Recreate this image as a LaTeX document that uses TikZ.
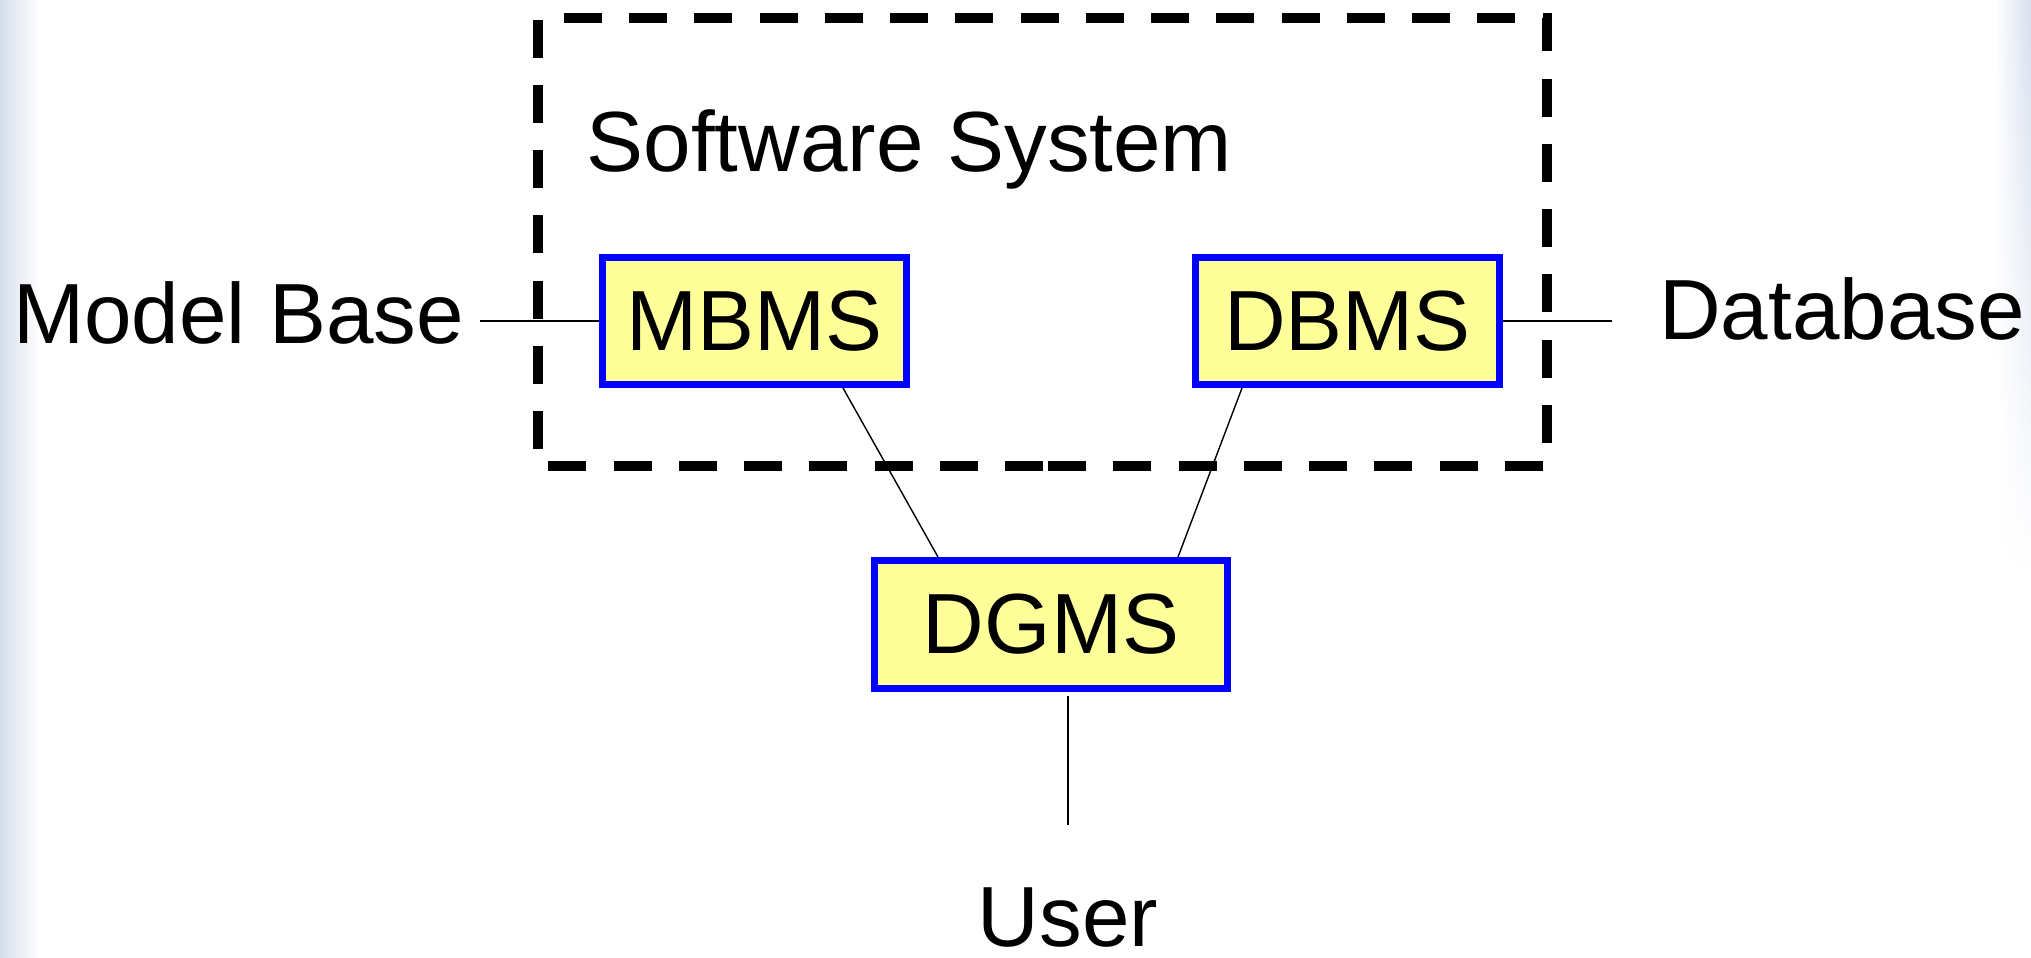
\documentclass[tikz,border=0pt]{standalone}
\usepackage{fontspec}
\setmainfont{Liberation Sans}
\usepackage{xcolor}
\usepackage{tikz}
\usetikzlibrary{positioning,calc,fadings}
\definecolor{boxfill}{RGB}{255,255,153}
\definecolor{boxline}{RGB}{0,0,255}
\definecolor{slidetint}{RGB}{214,222,238}

\begin{document}
\begin{tikzpicture}[
  x=0.1mm, y=0.1mm, font=\fontsize{24.3}{29}\selectfont,
  module/.style={draw=boxline, fill=boxfill, line width=0.7mm, minimum width=30.4mm, minimum height=12.7mm, inner sep=0pt},
  tag/.style={inner sep=0pt, anchor=base},
  wire/.style={line width=0.4pt},
  frame/.style={line width=1mm, dash pattern=on 3.8mm off 2.725mm}
]
\useasboundingbox (0,0) rectangle (2031,957);
% faint slide background at the edges
\shade[left color=slidetint, right color=white] (0,0) rectangle (40,957);
\shade[left color=white, right color=slidetint, path fading=south] (1995,380) rectangle (2031,957);

% software system frame (dashed)
\draw[frame] (1043,491) -- (538,491) -- (538,939) -- (1547,939) -- (1547,491) -- (1043,491);
\node[tag, anchor=base west] (sys) at (586,785) {Software System};

% management modules
\node[module] (mbms) at (754.5,636) {MBMS};
\node[module] (dbms) at (1347.5,636) {DBMS};
\node[module, minimum width=35.3mm, minimum height=12.8mm] (dgms) at (1051,332.5) {DGMS};

% outside parties
\node[tag] (model) at (238.5,614) {Model Base};
\node[tag] (data) at (1842,617) {Database};
\node[tag] (user) at (1068,11) {User};

% links
\draw[wire, shorten <=1.5mm] (model.east |- mbms.west) -- (mbms.west);
\draw[wire, shorten >=4.7mm] (dbms.east) -- (dbms.east -| data.west);
\draw[wire] ([xshift=-6.7mm]mbms.south east) -- ([xshift=6.7mm]dgms.north west);
\draw[wire] ([xshift=5mm]dbms.south west) -- ([xshift=-5.3mm]dgms.north east);
\draw[wire, shorten <=0.4mm, shorten >=6.2mm] (dgms.south -| user) -- (user.north);
\end{tikzpicture}
\end{document}
